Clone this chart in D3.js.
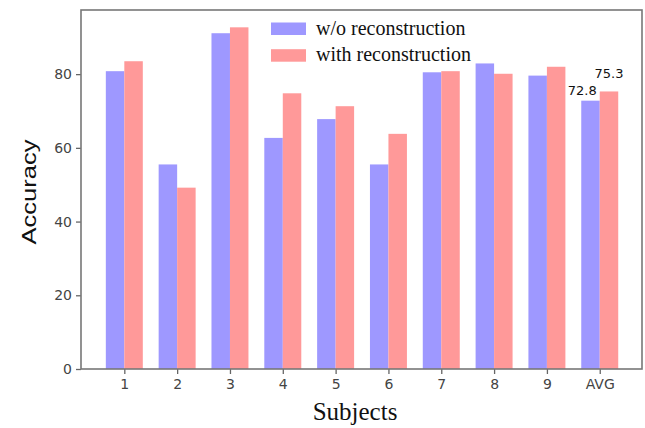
<!DOCTYPE html>
<html>
<head>
<meta charset="utf-8">
<script src="https://cdn.jsdelivr.net/npm/d3@7"></script>
<style>
  body { margin: 0; background: #fff; }
  svg { display: block; }
</style>
</head>
<body>
<svg id="chart" width="645" height="428"></svg>
<script>
var subjects = ['1', '2', '3', '4', '5', '6', '7', '8', '9', 'AVG'];
var withoutRecon = [80.8, 55.5, 91.1, 62.7, 67.8, 55.5, 80.5, 82.9, 79.6, 72.8];
var withRecon = [83.5, 49.2, 92.7, 74.8, 71.3, 63.8, 80.8, 80.1, 82.0, 75.3];
var yTicks = [0, 20, 40, 60, 80];
var seriesNames = ['w/o reconstruction', 'with reconstruction'];

var svg = d3.select('#chart');
// note: "top" is taken by window.top, so plot edges get their own names
var plotL = 81, plotR = 642, plotT = 10, plotB = 369;

// positions 1..10, matplotlib-like margins
var x = d3.scaleLinear().domain([0.18, 10.8]).range([plotL, plotR]);
var y = d3.scaleLinear().domain([0, 97.4]).range([plotB, plotT]);
var bw = 0.35;

var colors = ['#9e98ff', '#ff9999'];

var g = svg.append('g');

g.selectAll('.bar-a').data(withoutRecon).enter().append('rect')
  .attr('x', function(d, i) { return x(i + 1 - bw); })
  .attr('width', function() { return x(1) - x(1 - bw); })
  .attr('y', function(d) { return y(d); })
  .attr('height', function(d) { return y(0) - y(d); })
  .attr('fill', colors[0]);

g.selectAll('.bar-b').data(withRecon).enter().append('rect')
  .attr('x', function(d, i) { return x(i + 1); })
  .attr('width', function() { return x(1 + bw) - x(1); })
  .attr('y', function(d) { return y(d); })
  .attr('height', function(d) { return y(0) - y(d); })
  .attr('fill', colors[1]);

// avg labels
var last = subjects.length - 1;
svg.append('text')
  .attr('x', x(last + 1) - 3)
  .attr('y', y(withoutRecon[last]) - 6)
  .attr('text-anchor', 'end')
  .attr('font-family', 'DejaVu Sans')
  .attr('font-size', 13)
  .attr('fill', '#111')
  .text(withoutRecon[last].toFixed(1));
svg.append('text')
  .attr('x', x(last + 1 + bw / 2))
  .attr('y', y(withRecon[last]) - 13)
  .attr('text-anchor', 'middle')
  .attr('font-family', 'DejaVu Sans')
  .attr('font-size', 13)
  .attr('fill', '#111')
  .text(withRecon[last].toFixed(1));

// axes
var xAxis = d3.axisBottom(x)
  .tickValues(d3.range(1, subjects.length + 1))
  .tickFormat(function(d) { return subjects[d - 1]; })
  .tickSize(5).tickPadding(5);
var yAxis = d3.axisLeft(y).tickValues(yTicks).tickSize(5).tickPadding(4);

var gx = svg.append('g').attr('transform', 'translate(0,' + plotB + ')').call(xAxis);
var gy = svg.append('g').attr('transform', 'translate(' + plotL + ',0)').call(yAxis);
[gx, gy].forEach(function(a) {
  a.select('.domain').remove();
  a.selectAll('line').attr('stroke', '#666').attr('stroke-width', 1.3);
  a.selectAll('text').attr('font-family', 'DejaVu Sans').attr('font-size', 14).attr('fill', '#444');
});

// frame
svg.append('rect')
  .attr('x', plotL).attr('y', plotT)
  .attr('width', plotR - plotL).attr('height', plotB - plotT)
  .attr('fill', 'none').attr('stroke', '#777').attr('stroke-width', 1.6);

// legend
var legend = svg.append('g');
seriesNames.forEach(function(name, i) {
  var ly = 22.5 + i * 26.7;
  legend.append('rect')
    .attr('x', 271).attr('y', ly)
    .attr('width', 35).attr('height', 12.5)
    .attr('fill', colors[i]);
  legend.append('text')
    .attr('x', 316).attr('y', ly + 12)
    .attr('font-family', 'Liberation Serif')
    .attr('font-size', 20)
    .attr('fill', '#111')
    .text(name);
});

// axis titles
svg.append('text')
  .attr('transform', 'translate(36,192) rotate(-90)')
  .attr('text-anchor', 'middle')
  .attr('font-family', 'Liberation Sans')
  .attr('font-size', 20)
  .attr('textLength', 105)
  .attr('lengthAdjust', 'spacingAndGlyphs')
  .attr('fill', '#111')
  .text('Accuracy');
svg.append('text')
  .attr('x', 355).attr('y', 420)
  .attr('text-anchor', 'middle')
  .attr('font-family', 'Liberation Serif')
  .attr('font-size', 25)
  .attr('fill', '#111')
  .text('Subjects');
</script>
</body>
</html>
